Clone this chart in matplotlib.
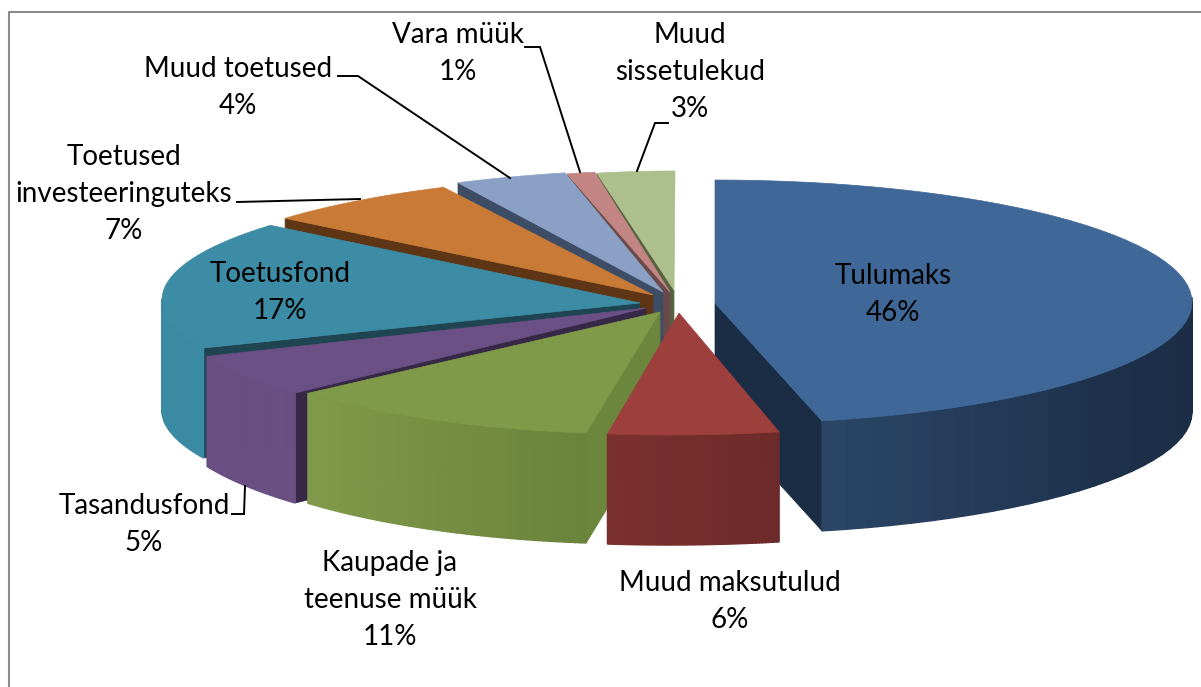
import numpy as np
import matplotlib
matplotlib.use('Agg')
import matplotlib.pyplot as plt
from matplotlib.patches import Polygon
from matplotlib.colors import LinearSegmentedColormap

# slice data, clockwise from 12 o'clock
names = ['Tulumaks', 'Muud maksutulud', 'Kaupade ja\nteenuse müük', 'Tasandusfond', 'Toetusfond',
         'Toetused\ninvesteeringuteks', 'Muud toetused', 'Vara müük', 'Muud\nsissetulekud']
values = [46.4, 5.6, 11.0, 5.4, 17.4, 6.6, 3.6, 1.0, 3.0]

# look of each slice
top_colors = ['#3f6899', '#9c3f3d', '#7f9a48', '#6a5084', '#3c8ca5', '#c97a36', '#8aa0c4', '#c38583', '#adbf8c']
cut_colors = ['#1b2d44', '#6a2a28', '#6d863d', '#362846', '#1f4552', '#5e3515', '#3d4d66', '#6a4a4a', '#55633f']
rim_colors = [['#1b2d45', '#1b2d45', '#1b2d45', '#1d3049', '#2a4565'],
              ['#6c2b2a', '#7a302e'],
              ['#6b843c', '#81994a'],
              ['#6a4f83', '#6a4f83'],
              ['#3b8aa4', '#3b8aa4'],
              ['#c97a36', '#c97a36'],
              ['#8aa0c4', '#8aa0c4'],
              ['#c38583', '#c38583'],
              ['#adbf8c', '#adbf8c']]

# where each exploded slice lands in the picture (pixels)
rim_cx = [715, 669, 644, 640, 652, 672, 691, 679, 675]
rim_cy = [302, 313, 305, 304, 300, 293, 292, 293, 294]
rim_a = [477, 491, 461, 473, 490, 497, 507, 450, 417]
rim_b = [122, 122, 129, 130, 119, 119, 123, 123, 123]
apex_x = [715, 679, 660, 646, 640, 653, 663, 670, 674]
apex_y = [303, 313, 312, 308, 303, 295, 292, 292, 290]
depth = 110
cut_edge = ['end', None, 'start', 'start', 'start', 'start', 'start', 'start', 'start']
draw_order = [8, 7, 6, 5, 4, 3, 2, 0, 1]

# label centres: x, y of the first line
label_x = [893, 730, 390, 144, 280, 124, 238, 458, 690]
label_y = [276, 583, 563, 506, 274, 157, 69, 35, 35]
line_gap = 37
leaders = [([338, 358, 510], [76, 76, 178]),
           ([525, 540, 580], [47, 47, 172]),
           ([668, 655, 637], [123, 123, 171]),
           ([237, 360], [202, 199]),
           ([232, 244, 245], [514, 514, 486])]

plt.rcParams['font.family'] = ['Lato', 'DejaVu Sans']

fig = plt.figure(figsize=(12.01, 6.87), dpi=100)
ax = fig.add_axes([0, 0, 1, 1])
ax.set_xlim(0, 1201)
ax.set_ylim(687, 0)
ax.axis('off')

ax.plot([8.5, 8.5, 1201], [687, 12, 12], color='#8c8c8c', lw=1.5)

edges = np.radians(np.cumsum([0] + values) * 3.6)


def rim_point(i, theta):
    return rim_cx[i] + rim_a[i] * np.sin(theta), rim_cy[i] - rim_b[i] * np.cos(theta)


def draw_slice(i):
    t0, t1 = edges[i], edges[i + 1]
    ts = np.linspace(t0, t1, 60)
    xs, ys = rim_point(i, ts)

    # flat wall along the cut side
    if cut_edge[i] is not None:
        cx, cy = (xs[0], ys[0]) if cut_edge[i] == 'start' else (xs[-1], ys[-1])
        wall = [(apex_x[i], apex_y[i]), (cx, cy), (cx, cy + depth), (apex_x[i], apex_y[i] + depth)]
        ax.add_patch(Polygon(wall, closed=True, fc=cut_colors[i], ec=cut_colors[i], lw=0.5))

    # outer wall, shaded in thin strips, only the part facing the viewer
    cmap = LinearSegmentedColormap.from_list('rim%d' % i, rim_colors[i])
    for k in range(len(ts) - 1):
        if ts[k + 1] < np.pi / 2 or ts[k] > 3 * np.pi / 2:
            continue
        col = cmap(k / (len(ts) - 2))
        strip = [(xs[k], ys[k]), (xs[k + 1], ys[k + 1]), (xs[k + 1], ys[k + 1] + depth), (xs[k], ys[k] + depth)]
        ax.add_patch(Polygon(strip, closed=True, fc=col, ec=col, lw=1.0))

    # top face
    face = [(apex_x[i], apex_y[i])] + list(zip(xs, ys))
    ax.add_patch(Polygon(face, closed=True, fc=top_colors[i], ec=top_colors[i], lw=0.5))


for i in draw_order:
    draw_slice(i)

for lx, ly in leaders:
    ax.plot(lx, ly, color='black', lw=1.4, solid_joinstyle='miter')

for i, name in enumerate(names):
    lines = name.split('\n') + ['%d%%' % round(values[i])]
    for n, line in enumerate(lines):
        ax.text(label_x[i], label_y[i] + n * line_gap, line, ha='center', va='center',
                fontsize=20, color='black')

fig.savefig('out.png', dpi=100)
